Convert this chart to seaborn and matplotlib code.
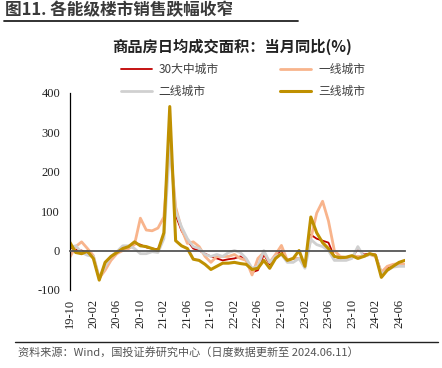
import numpy as np
import pandas as pd
import matplotlib
matplotlib.use("Agg")
import matplotlib.pyplot as plt
import seaborn as sns

# 月份 2019-09 ~ 2024-06
months = pd.period_range("2019-09", "2024-06", freq="M").strftime("%y-%m").tolist()

city30 = [8, 2, 0, -5, -15, -72, -45, -20, -5, 5, 8, 18, 15, 8, 5, 3, 40, 300, 90, 50,
          25, 5, 0, -8, -15, -20, -25, -22, -20, -15, -25, -55, -50, -10, -35, -10, 0, -25,
          -20, -20, -40, 40, 30, 25, 20, -15, -20, -22, -18, 4, -10, -8, -10, -55, -45, -38,
          -35, -35]
tier1 = [-17, 10, 22, 5, -13, -70, -50, -25, -8, 0, 5, 15, 82, 52, 50, 57, 85, 275, 110, 55,
         18, 22, 10, -15, -30, -15, -15, -15, -10, -20, -25, -62, -20, -5, -30, -10, 13, -25,
         -20, -20, -35, 30, 95, 125, 75, 0, -15, -18, -15, -15, -15, -10, -15, -55, -40, -35,
         -33, -35]
tier2 = [8, 12, -5, -12, -15, -70, -40, -15, -3, 12, 12, 5, -8, -8, -3, -5, 30, 270, 100, 60,
         30, 10, 5, -10, -15, -10, -15, -5, 0, -5, -20, -45, -40, 0, -30, -15, -10, -30,
         -30, -20, -45, 28, 15, 10, 0, -25, -25, -25, -20, 10, -15, -10, -12, -60, -50, -42,
         -40, -40]
tier3 = [21, -5, -8, -2, -20, -75, -30, -15, -5, 5, 10, 22, 12, 10, 5, 0, 45, 365, 25, 12,
         5, -22, -25, -35, -48, -40, -32, -32, -30, -33, -35, -48, -45, -25, -45, -20, -8, -25,
         -20, 0, -40, 85, 45, 20, 5, -15, -18, -17, -13, -20, -15, -8, -12, -68, -50, -40,
         -30, -25]

tick_labels = ["19-10", "20-02", "20-06", "20-10", "21-02", "21-06", "21-10", "22-02",
               "22-06", "22-10", "23-02", "23-06", "23-10", "24-02", "24-06"]

names = ["30大中城市", "一线城市", "二线城市", "三线城市"]
colors = ["#C00000", "#F8B48C", "#D0D0D0", "#BF9000"]
widths = [1.3, 2.0, 2.0, 2.2]

df = pd.DataFrame({"idx": np.arange(len(months)), "month": months,
                   names[0]: city30, names[1]: tier1, names[2]: tier2, names[3]: tier3})

sns.set_style("white")
plt.rcParams["font.family"] = ["Noto Sans CJK SC", "DejaVu Sans"]
plt.rcParams["axes.unicode_minus"] = False

fig = plt.figure(figsize=(4.42, 3.68), dpi=100)
ax = fig.add_axes([0.158, 0.212, 0.758, 0.536])

for name, c, w in zip(names, colors, widths):
    sns.lineplot(data=df, x="idx", y=name, color=c, linewidth=w, ax=ax,
                 label=name, solid_joinstyle="round")

# spine 先定位（set_position 会重置刻度）
for s in ["top", "right"]:
    ax.spines[s].set_visible(False)
ax.spines["bottom"].set_position(("data", 0))
ax.spines["bottom"].set_color("#555555")
ax.spines["bottom"].set_linewidth(1.3)
ax.spines["left"].set_color("black")
ax.spines["left"].set_linewidth(0.9)

serif = {"family": ["Liberation Serif", "DejaVu Serif"], "size": 9, "color": "#222222"}
ax.set_xlim(0, len(months) - 1)
ax.set_ylim(-100, 400)
ax.set_yticks([-100, 0, 100, 200, 300, 400])
ax.set_yticklabels(["-100", "0", "100", "200", "300", "400"], fontdict=serif)
ax.set_xticks(np.arange(0, len(months), 4))
ax.set_xticklabels(tick_labels, rotation=90, va="top", ha="center", fontdict=serif)
ax.set_xlabel("")
ax.set_ylabel("")

ax.tick_params(axis="y", direction="out", length=4, width=0.9, color="black", pad=3)
ax.tick_params(axis="x", direction="out", length=3, width=1.0, color="#555555", pad=32)

h, l = ax.get_legend_handles_labels()
order = [0, 2, 1, 3]
ax.legend([h[i] for i in order], [l[i] for i in order], ncol=2, loc="center",
          bbox_to_anchor=(0.55, 0.781), bbox_transform=fig.transFigure,
          frameon=False, fontsize=8.5, handlelength=2.6, handletextpad=0.6,
          columnspacing=5.2, labelspacing=0.75, borderpad=0, labelcolor="#404040")

fig.text(0.525, 0.873, "商品房日均成交面积：当月同比(%)", ha="center", va="center",
         fontsize=11, fontweight="bold", color="#222222")

fig.text(0.012, 0.972, "图11. 各能级楼市销售跌幅收窄", ha="left", va="center",
         fontsize=12, fontweight="bold", color="#3a3a3a")
fig.add_artist(plt.Line2D([0.01, 0.675], [0.942, 0.942], transform=fig.transFigure,
                          color="#222222", linewidth=1.3))

fig.add_artist(plt.Line2D([0.035, 0.99], [0.072, 0.072], transform=fig.transFigure,
                          color="#222222", linewidth=1.0))
fig.text(0.04, 0.042, "资料来源：Wind，国投证券研究中心（日度数据更新至 2024.06.11）",
         ha="left", va="center", fontsize=8, color="#555555")

fig.savefig("out.png", dpi=100)
